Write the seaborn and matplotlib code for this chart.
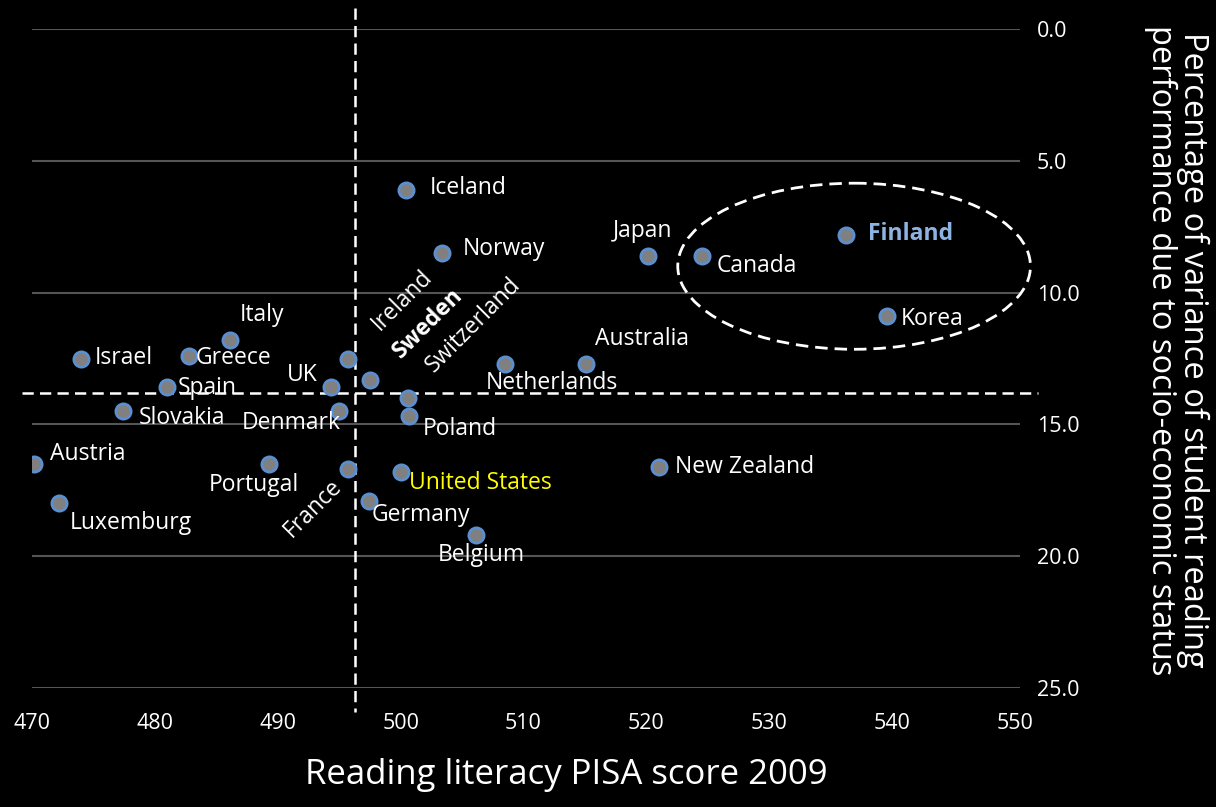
import pandas as pd
import matplotlib.pyplot as plt
import seaborn as sns
from matplotlib.patches import Ellipse

# Data
countries = ['Iceland', 'Norway', 'Japan', 'Canada', 'Finland', 'Korea', 'Australia',
             'Netherlands', 'Italy', 'Israel', 'Greece', 'Spain', 'UK', 'Ireland',
             'Sweden', 'Switzerland', 'Poland', 'Slovakia', 'Denmark', 'Austria',
             'Portugal', 'France', 'United States', 'Germany', 'Luxemburg', 'Belgium',
             'New Zealand']
reading_score = [500.4, 503.4, 520.1, 524.5, 536.2, 539.6, 515.1,
                 508.5, 486.1, 474.0, 482.8, 481.0, 494.3, 495.7,
                 497.5, 500.6, 500.7, 477.4, 495.0, 470.2,
                 489.3, 495.7, 500.0, 497.4, 472.2, 506.1,
                 521.0]
ses_variance = [6.1, 8.5, 8.6, 8.6, 7.8, 10.9, 12.7,
                12.7, 11.8, 12.5, 12.4, 13.6, 13.6, 12.5,
                13.3, 14.0, 14.7, 14.5, 14.5, 16.5,
                16.5, 16.7, 16.8, 17.9, 18.0, 19.2,
                16.6]
oecd_mean_score = 496.3
oecd_mean_variance = 13.8

df = pd.DataFrame({'country': countries, 'score': reading_score, 'variance': ses_variance})

# label placement: offset in pixels, alignment, rotation
label_pos = {
    'Iceland': (24, 2, 'left', 0), 'Norway': (20, 4, 'left', 0),
    'Japan': (-5, 25, 'center', 0), 'Canada': (15, -10, 'left', 0),
    'Finland': (22, 1, 'left', 0), 'Korea': (13, -3, 'left', 0),
    'Australia': (56, 25, 'center', 0), 'Netherlands': (-19, -19, 'left', 0),
    'Italy': (32, 25, 'center', 0), 'Israel': (14, 0, 'left', 0),
    'Greece': (6, -2, 'left', 0), 'Spain': (11, -1, 'left', 0),
    'UK': (-13, 12, 'right', 0), 'Ireland': (54, 58, 'center', 45),
    'Sweden': (58, 56, 'center', 45), 'Switzerland': (65, 73, 'center', 45),
    'Poland': (13, -13, 'left', 0), 'Slovakia': (16, -7, 'left', 0),
    'Denmark': (2, -12, 'right', 0), 'Austria': (16, 10, 'left', 0),
    'Portugal': (-15, -21, 'center', 0), 'France': (-35, -39, 'center', 45),
    'United States': (8, -11, 'left', 0), 'Germany': (3, -14, 'left', 0),
    'Luxemburg': (11, -20, 'left', 0), 'Belgium': (-38, -20, 'left', 0),
    'New Zealand': (16, 0, 'left', 0),
}
label_color = {'Finland': '#8db3e2', 'United States': '#ffff00'}
bold_labels = ['Finland', 'Sweden']

sns.set_style('dark')
plt.rcParams['font.family'] = ['Open Sans', 'DejaVu Sans']

fig = plt.figure(figsize=(12.16, 8.07), dpi=100, facecolor='black')
ax = fig.add_axes([32 / 1216, 1 - 688 / 807, 988 / 1216, 659 / 807])
ax.set_facecolor('black')

sns.scatterplot(data=df, x='score', y='variance', ax=ax, s=120, color='#808080',
                edgecolor='#5b8fcf', linewidth=2, zorder=5, legend=False)

for _, row in df.iterrows():
    dx, dy, ha, rot = label_pos[row['country']]
    ax.annotate(row['country'], (row['score'], row['variance']), xytext=(dx, dy),
                textcoords='offset pixels', ha=ha, va='center', rotation=rot,
                color=label_color.get(row['country'], 'white'), fontsize=16.5,
                fontweight='bold' if row['country'] in bold_labels else 'normal',
                zorder=6)

# OECD average lines
ax.plot([oecd_mean_score, oecd_mean_score], [-0.8, 25.9], color='white', lw=1.8,
        ls=(0, (4.5, 2.5)), clip_on=False, zorder=3)
ax.plot([469.2, 551.9], [oecd_mean_variance, oecd_mean_variance], color='white', lw=1.8,
        ls=(0, (4.5, 2.5)), clip_on=False, zorder=3)

# top performers ring
ax.add_patch(Ellipse((536.9, 9.0), 28.7, 6.3, fill=False, edgecolor='white', lw=2,
                     ls=(0, (4.5, 2.5)), zorder=4, clip_on=False))

ax.set_xlim(470, 550.4)
ax.set_ylim(25, 0)
ax.set_xticks(range(470, 551, 10))
ax.set_yticks([0, 5, 10, 15, 20, 25])
ax.set_yticklabels([f'{v:.1f}' for v in [0, 5, 10, 15, 20, 25]])
ax.yaxis.tick_right()
ax.tick_params(axis='both', colors='white', labelsize=15.5, length=0)
ax.tick_params(axis='x', pad=18)
ax.tick_params(axis='y', pad=12)
ax.grid(axis='y', color='#555555', lw=1.5)
ax.grid(axis='x', visible=False)
for sp in ax.spines.values():
    sp.set_visible(False)
ax.set_xlabel('')
ax.set_ylabel('')

fig.text(566 / 1216, 1 - 775 / 807, 'Reading literacy PISA score 2009', color='white',
         fontsize=25, ha='center', va='center')
fig.text(1177 / 1216, 1 - 350 / 807,
         'Percentage of variance of student reading\nperformance due to socio-economic status',
         color='white', fontsize=23.5, rotation=270, ha='center', va='center',
         multialignment='center', linespacing=0.95)

fig.savefig('out.png', dpi=100, facecolor='black')
